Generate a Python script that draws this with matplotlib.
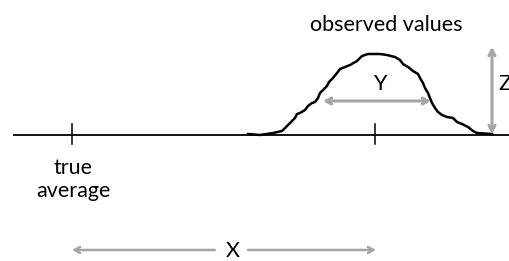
import matplotlib.pyplot as plt

# wiggly curve of observed values (pixel coords, y down)
curve_x = [248, 260, 273, 282, 287, 290, 295, 297, 300, 305, 308, 312, 315, 318,
           320, 323, 327, 329, 333, 337, 340, 345, 350, 357, 362, 368, 380,
           387, 395, 400, 403, 408, 413, 418, 420, 423, 425, 428, 430, 432,
           435, 438, 442, 447, 453, 457, 462, 468, 473, 477, 492]
curve_y = [134, 135, 133, 131, 126, 123, 118, 114, 113, 110, 106, 103, 102, 98,
           93, 90, 86, 82, 78, 73, 69, 67, 65, 61, 56, 54, 54,
           55, 57, 60, 64, 67, 71, 74, 78, 83, 88, 93, 98, 103,
           108, 112, 115, 117, 118, 122, 124, 127, 131, 133, 134]

tick_x = [72, 375]
axis_y = 135

fig = plt.figure(figsize=(5.1, 2.61), dpi=100)
ax = fig.add_axes([0, 0, 1, 1])
ax.set_xlim(0, 510)
ax.set_ylim(261, 0)
ax.axis("off")

font = dict(family="Lato", fontsize=15.5, color="black")
grey = "#a6a6a6"

# base line and ticks
ax.plot([13, 510], [axis_y, axis_y], color="black", lw=1.3, solid_capstyle="butt")
for tx in tick_x:
    ax.plot([tx, tx], [124, 144], color="black", lw=1.1)

# observed curve
ax.plot(curve_x, curve_y, color="black", lw=1.8, solid_joinstyle="round")

head = "head_length=0.4,head_width=0.22"
arrow = dict(arrowstyle="<->," + head, color=grey, lw=2.2, shrinkA=0, shrinkB=0)

# Y width arrow
ax.annotate("", xy=(323, 101), xytext=(431, 101), arrowprops=arrow)
ax.text(380, 90, "Y", ha="center", va="baseline", **font)

# Z height arrow
ax.annotate("", xy=(492, 47), xytext=(492, 134), arrowprops=arrow)
ax.text(498, 90, "Z", ha="left", va="baseline", **font)

# X distance arrow
one_way = dict(arrowstyle="->," + head, color=grey, lw=1.8, shrinkA=0, shrinkB=0)
ax.annotate("", xy=(72, 250), xytext=(215, 250), arrowprops=one_way)
ax.annotate("", xy=(376, 250), xytext=(248, 250), arrowprops=one_way)
ax.text(233, 257, "X", ha="center", va="baseline", **font)

ax.text(386, 31, "observed values", ha="center", va="baseline", **font)
ax.text(73, 174, "true", ha="center", va="baseline", **font)
ax.text(73, 197, "average", ha="center", va="baseline", **font)

fig.savefig("out.png", dpi=100)
